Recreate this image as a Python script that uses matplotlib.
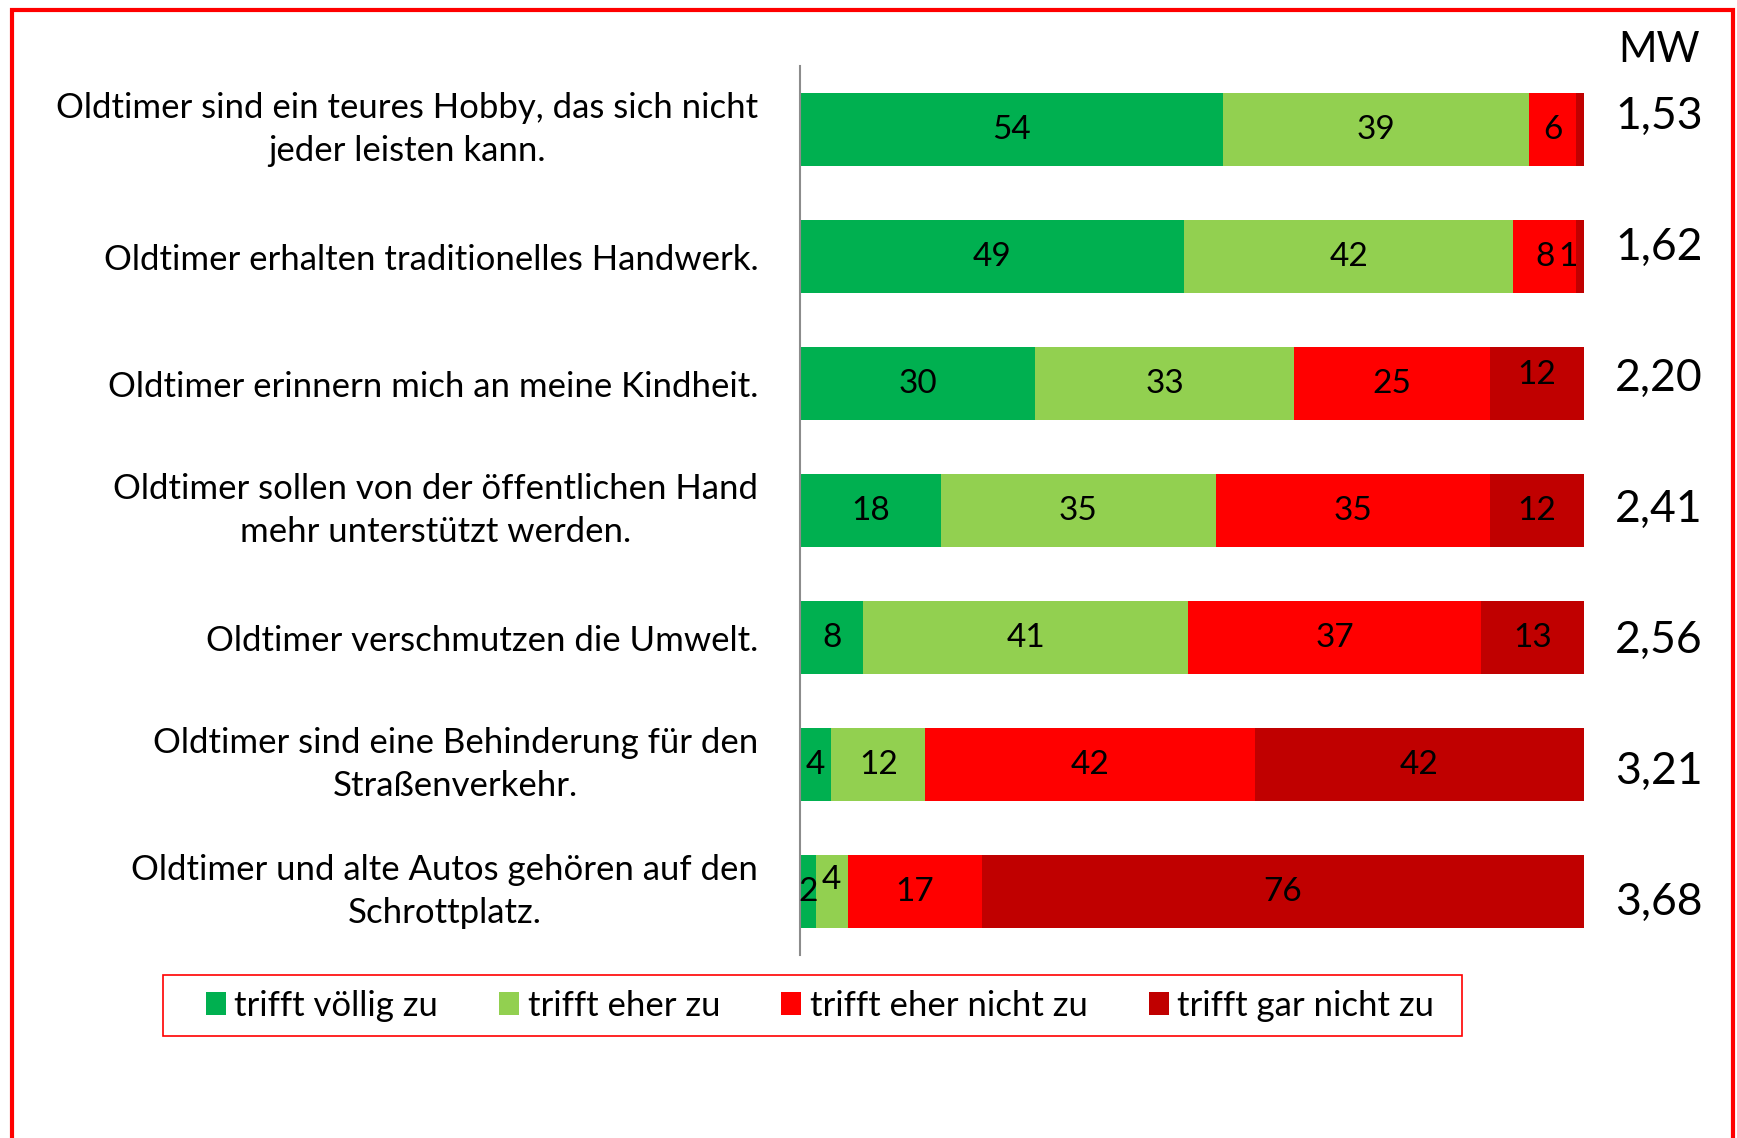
import matplotlib
matplotlib.use("Agg")
import matplotlib.pyplot as plt
from matplotlib.patches import Rectangle, Patch
import numpy as np

categories = [
    "Oldtimer sind ein teures Hobby, das sich nicht\njeder leisten kann.",
    "Oldtimer erhalten traditionelles Handwerk.",
    "Oldtimer erinnern mich an meine Kindheit.",
    "Oldtimer sollen von der öffentlichen Hand\nmehr unterstützt werden.",
    "Oldtimer verschmutzen die Umwelt.",
    "Oldtimer sind eine Behinderung für den\nStraßenverkehr.",
    "Oldtimer und alte Autos gehören auf den\nSchrottplatz.",
]
series_names = ["trifft völlig zu", "trifft eher zu", "trifft eher nicht zu", "trifft gar nicht zu"]
voellig = [54, 49, 30, 18, 8, 4, 2]
eher = [39, 42, 33, 35, 41, 12, 4]
eher_nicht = [6, 8, 25, 35, 37, 42, 17]
gar_nicht = [1, 1, 12, 12, 13, 42, 76]
mw = ["1,53", "1,62", "2,20", "2,41", "2,56", "3,21", "3,68"]

colors = ["#00B050", "#92D050", "#FF0000", "#C00000"]
FONT = "Lato"

W, H = 1737, 1138
fig = plt.figure(figsize=(W / 100, H / 100), dpi=100)
ax = fig.add_axes([800 / W, 183 / H, 784 / W, 889 / H])

data = np.array([voellig, eher, eher_nicht, gar_nicht], dtype=float)
totals = data.sum(axis=0)
pct = data / totals * 100
y = np.arange(len(categories))
left = np.zeros(len(categories))
for i in range(4):
    ax.barh(y, pct[i], left=left, height=0.575, color=colors[i],
            edgecolor="none", label=series_names[i])
    for j in range(len(categories)):
        val = int(data[i, j])
        if i == 3 and j == 0:
            left[j] += pct[i, j]
            continue
        cx = left[j] + pct[i, j] / 2
        dy = 0
        if i == 3 and j == 1:
            cx = left[j] - 1.0
        if i == 3 and j == 2:
            dy = -0.07
        if i == 1 and j == 6:
            dy = -0.09
        ax.text(cx, y[j] + dy, str(val), ha="center", va="center",
                fontsize=24, family=FONT, color="black")
    left += pct[i]

ax.set_xlim(0, 100)
ax.set_ylim(len(categories) - 0.5, -0.5)
ax.set_yticks(y)
ax.set_yticklabels(categories, fontsize=25, family=FONT)
for lbl in ax.get_yticklabels():
    lbl.set_multialignment("center")
    if "\n" in lbl.get_text():
        lbl.set_linespacing(1.45)
        lbl.set_verticalalignment("center")
ax.tick_params(axis="y", length=0, pad=30)
ax.set_xticks([])
for s in ["top", "right", "bottom"]:
    ax.spines[s].set_visible(False)
ax.spines["left"].set_color("#8C8C8C")
ax.spines["left"].set_linewidth(1.5)

# MW column
fig.text(1659 / W, 1 - 50 / H, "MW", ha="center", va="center", fontsize=30, family=FONT)
for j, m in enumerate(mw):
    yy = 116 + j * 131
    fig.text(1659 / W, 1 - yy / H, m, ha="center", va="center", fontsize=32, family=FONT)

# legend
handles = [Patch(facecolor=c, edgecolor="none") for c in colors]
leg = fig.legend(handles, series_names, loc="center",
                 bbox_to_anchor=(820 / W, 1 - 1006 / H),
                 ncol=4, frameon=False,
                 prop={"family": FONT, "size": 25}, handlelength=0.58,
                 handleheight=0.64, handletextpad=0.25, columnspacing=1.75,
                 borderpad=0.0)
fig.patches.append(Rectangle((163 / W, 1 - 1036 / H), 1299 / W, 61 / H,
                             transform=fig.transFigure, fill=False,
                             edgecolor="#FF0000", linewidth=1.2))

# outer red border
fig.patches.append(Rectangle((12 / W, -0.1), (1733 - 12) / W, 1.1 - 10 / H,
                             transform=fig.transFigure, fill=False,
                             edgecolor="#FF0000", linewidth=3, clip_on=False))

fig.savefig("out.png", dpi=100, facecolor="white")
